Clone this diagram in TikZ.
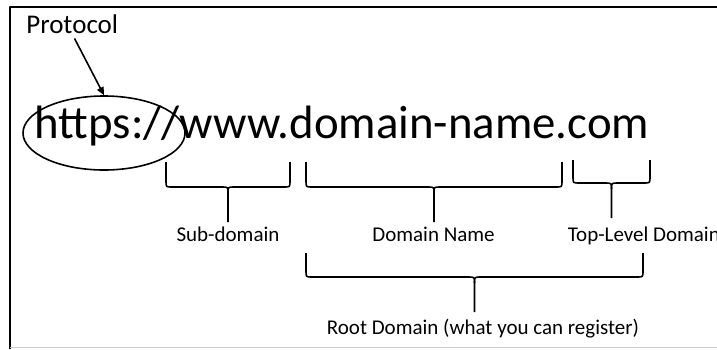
\documentclass[tikz,border=0pt]{standalone}
\usepackage{fontspec}
\setmainfont{Carlito}
\usetikzlibrary{shapes.geometric,arrows.meta}

\begin{document}
\begin{tikzpicture}[x=1pt, y=-1pt, line width=1.6pt, line join=round,
    every node/.style={inner sep=0pt},
    lbl/.style={font=\fontsize{21}{25}\selectfont, anchor=base}]
  \useasboundingbox (0,0) rectangle (717,349);

  % frame (left and top only, light rule at the bottom)
  \draw[line width=2.2pt] (10,349) -- (10,7) -- (717,7);
  \draw[line width=1.5pt, black!20] (10,347.5) -- (717,347.5);

  \node[anchor=base west, font=\fontsize{27}{31}\selectfont] (protocol) at (25.5,33) {Protocol};
  \node[anchor=base west, font=\fontsize{46.8}{54}\selectfont] (url) at (34,138) {https://www.domain-name.com};
  \node[draw, ellipse, minimum width=162pt, minimum height=74pt] (https) at (104,133) {};
  \draw[-{Triangle[length=8pt,width=7pt]}, shorten <=5pt] (protocol.south) -- (https.north);

  % braces: name / left x / right x / top y / bar y / tip y
  \def\rad{6}
  \foreach \name/\xl/\xr/\yt/\yb/\yp in {sub/166/290/162/187/222, dom/306/562/162/187/222, tld/573/650/160/183/218, root/306/643/253/277/312} {
    \pgfmathsetmacro\xm{(\xl+\xr)/2}
    \draw (\xl,\yt) -- (\xl,\yb-\rad) .. controls (\xl,\yb) .. (\xl+\rad,\yb) -- (\xm-\rad,\yb) .. controls (\xm,\yb) .. (\xm,\yb+\rad) -- (\xm,\yp);
    \draw (\xr,\yt) -- (\xr,\yb-\rad) .. controls (\xr,\yb) .. (\xr-\rad,\yb) -- (\xm+\rad,\yb) .. controls (\xm,\yb) .. (\xm,\yb+\rad);
    \coordinate (\name) at (\xm,\yp);
  }

  \node[lbl] (subdomain) at (228,241) {Sub-domain};
  \node[lbl] (domainname) at (433.5,241) {Domain Name};
  \node[lbl, anchor=base west] (toplevel) at (567,241) {Top-Level Domain};
  \node[lbl] (rootdomain) at (483,334) {Root Domain (what you can register)};
\end{tikzpicture}
\end{document}
